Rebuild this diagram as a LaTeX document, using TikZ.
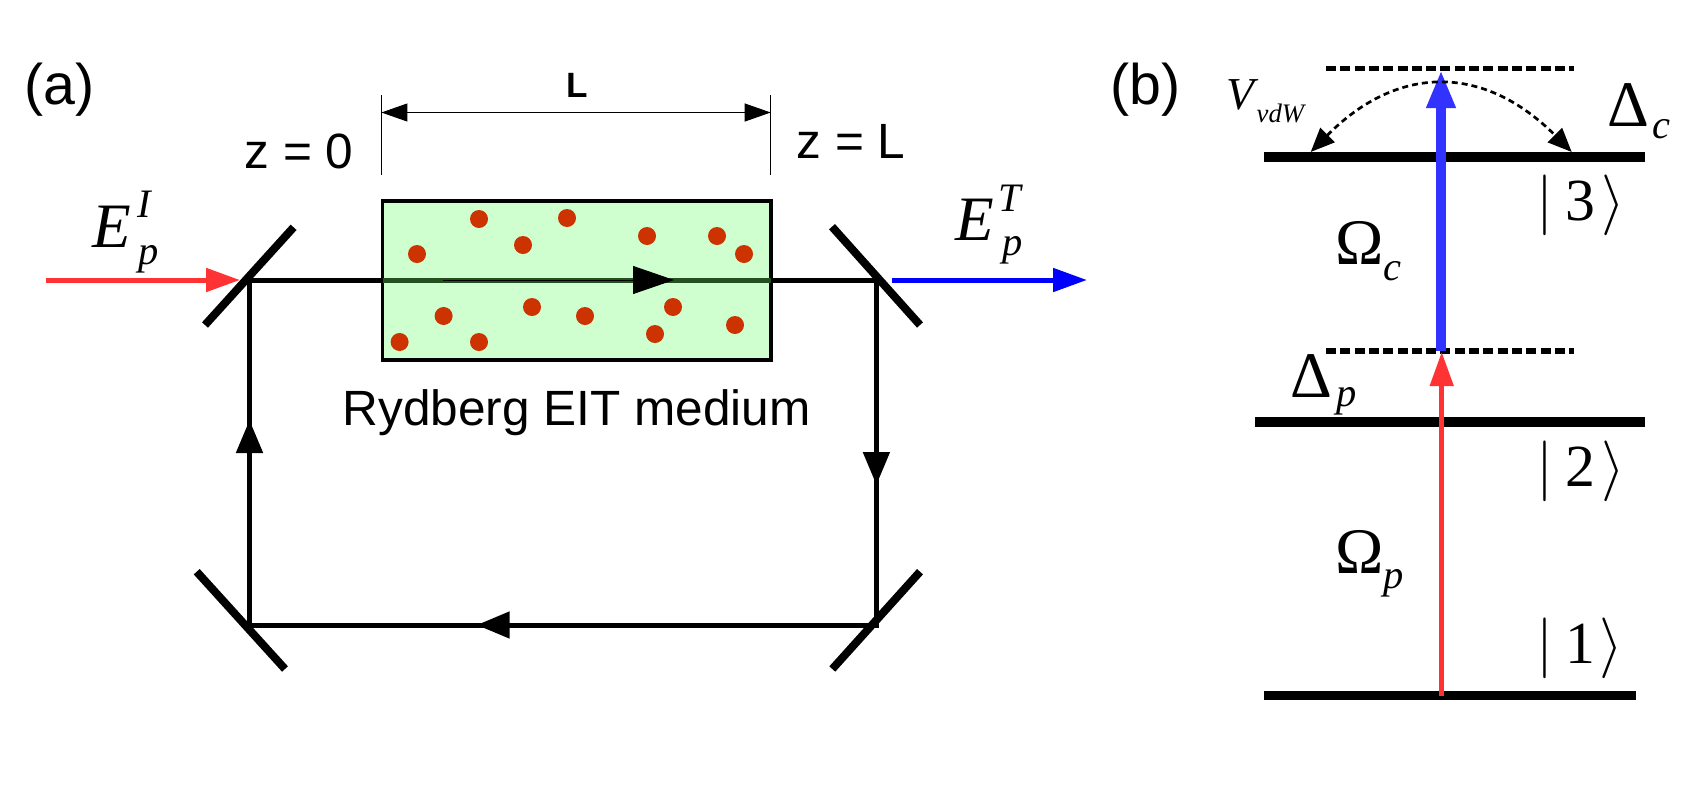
\documentclass[tikz,border=0pt]{standalone}
\usepackage{fontspec}
\setmainfont{Liberation Sans}
\newfontfamily\serifgreek{Liberation Serif}
\usetikzlibrary{arrows.meta}

\definecolor{ccmedium}{RGB}{207,255,207}
\definecolor{ccatom}{RGB}{204,51,0}
\definecolor{ccbeam}{RGB}{36,80,32}
\definecolor{ccprobe}{RGB}{255,51,51}
\definecolor{cccoupling}{RGB}{51,51,255}
\definecolor{ccoutput}{RGB}{0,0,255}

\tikzset{
  legend/.style={inner sep=0pt, anchor=base west, font=\fontsize{14.1}{14.1}\selectfont},
  panel/.style={inner sep=0pt, anchor=base west, font=\fontsize{16.3}{16.3}\selectfont},
  big/.style={inner sep=0pt, anchor=base west, font=\serifgreek\fontsize{18.5}{18.5}\selectfont},
  ket/.style={inner sep=0pt, anchor=base west, font=\serifgreek\fontsize{17}{17}\selectfont},
  bigit/.style={inner sep=0pt, anchor=base west, font=\serifgreek\itshape\fontsize{18}{18}\selectfont},
  small/.style={inner sep=0pt, anchor=base west, font=\serifgreek\itshape\fontsize{11.5}{11.5}\selectfont},
  beam/.style={line width=0.5mm},
  mirror/.style={line width=0.8mm},
  lvl/.style={line width=1mm},
  virtual/.style={line width=0.55mm, dash pattern=on 1mm off 0.43mm},
  atom/.style={fill=ccatom, draw=none},
  tipcavity/.style={-{Triangle[length=3.3mm, width=2.6mm]}, beam},
  tipprobe/.style={-{Triangle[length=3.4mm, width=2.3mm]}, line width=0.5mm},
}

\begin{document}
\begin{tikzpicture}[x=0.1mm, y=-0.1mm]

  \useasboundingbox (0,0) rectangle (1707,787);

  % Corners of the cavity
  \coordinate (m1) at (249.5,280);
  \coordinate (m2) at (876.4,280);
  \coordinate (m3) at (876.4,625);
  \coordinate (m4) at (249.5,625);
  \coordinate (boxl) at (382.5,280);
  \coordinate (boxr) at (770.7,280);

  % Medium
  \draw[fill=ccmedium, line width=0.38mm] (382.5,201) rectangle (770.7,360);
  \foreach \x/\y in {479/219, 417/254, 523/245, 567/218, 647/236, 717/236, 744/254,
                     443.6/316, 532/307, 585/316, 673/307, 655/334, 735/325, 399.6/342, 479/342}
    \fill[atom] (\x,\y) circle [radius=0.9mm];

  % Cavity
  \draw[beam] (m1) -- (boxl);
  \draw[beam] (boxr) -- (m2) -- (m3) -- (m4) -- (m1);
  \draw[beam, ccbeam] (boxl) -- (boxr);
  \draw[line width=0.1mm] (443,280) -- (640,280);

  % Cavity arrows
  \draw[-{Triangle[length=4.1mm, width=2.8mm]}, line width=0.1mm] (630,280) -- (674,280);
  \draw[tipcavity] (249.5,470) -- (249.5,420);
  \draw[tipcavity] (876.4,440) -- (876.4,485);
  \draw[tipcavity] (520,625) -- (476.7,625);

  % Mirrors
  \draw[mirror] (293.6,227.3) -- (205,325);
  \draw[mirror] (832,226.7) -- (920,325);
  \draw[mirror] (196.7,571.7) -- (285,669);
  \draw[mirror] (920,571.7) -- (832.3,669);

  % In and out
  \draw[tipprobe, ccprobe] (46,280) -- (240,280);
  \draw[tipprobe, ccoutput] (892,280) -- (1087,280);

  % Length
  \draw[line width=0.1mm] (381.4,95) -- (381.4,174.7);
  \draw[line width=0.1mm] (770.7,95) -- (770.7,174.7);
  \draw[{Triangle[length=2.6mm, width=1.8mm]}-{Triangle[length=2.6mm, width=1.8mm]}, line width=0.1mm] (381.4,112.5) -- (770.7,112.5);

  % Levels
  \draw[lvl] (1264,157) -- (1645,157);
  \draw[lvl] (1255,421.7) -- (1645,421.7);
  \draw[lvl, line width=0.9mm] (1264,695) -- (1636,695);
  \draw[virtual] (1326,68.7) -- (1574,68.7);
  \draw[virtual] (1326,351) -- (1574,351);

  % Transitions
  \draw[-{Triangle[length=3.8mm, width=2.7mm]}, line width=1mm, cccoupling] (1441,351) -- (1441,70);
  \draw[-{Triangle[length=3.4mm, width=2.3mm]}, line width=0.47mm, ccprobe] (1441.7,695.7) -- (1441.7,352);

  % vdW shift
  \draw[{Triangle[length=2.4mm, width=2mm]}-{Triangle[length=2.4mm, width=2mm]}, line width=0.27mm, dash pattern=on 0.6mm off 0.4mm]
    (1310.7,152) .. controls (1398,64) and (1484,64) .. (1571.7,152);

  % Legend
  \draw (24,104) node[panel] (a) {(a)};
  \draw (1110,104) node[panel] (b) {(b)};
  \draw (244,168) node[legend] (zstart) {z = 0};
  \draw (796,158) node[legend] (zend) {z = L};
  \draw (566,97) node[legend, font=\fontsize{10}{10}\selectfont\bfseries] (len) {L};
  \draw (342,425) node[legend] (medium) {Rydberg EIT medium};

  \draw (92,247) node[bigit] (ein) {E};
  \draw (137,217) node[small] (einsup) {I};
  \draw (138,264) node[small] (einsub) {p};
  \draw (955,240) node[bigit] (eout) {E};
  \draw (998,211) node[small] (eoutsup) {T};
  \draw (1002,255) node[small] (eoutsub) {p};

  \draw (1226,109) node[small, font=\serifgreek\itshape\fontsize{13}{13}\selectfont] (vdw) {V};
  \draw (1256,122) node[small, font=\serifgreek\itshape\fontsize{7.6}{7.6}\selectfont] (vdwsub) {vdW};

  \draw (1607,126) node[big] (dc) {Δ};
  \draw (1652,138) node[small] (dcsub) {c};
  \draw (1290,397) node[big] (dp) {Δ};
  \draw (1336,406) node[small] (dpsub) {p};
  \draw (1335,264) node[big] (oc) {Ω};
  \draw (1383,280) node[small] (ocsub) {c};
  \draw (1335,573) node[big] (op) {Ω};
  \draw (1383,588) node[small] (opsub) {p};

  \draw (1536,220) node[ket] (ket3) {$|$\hspace{3.5pt}3\hspace{1.7pt}$\rangle$};
  \draw (1536,486) node[ket] (ket2) {$|$\hspace{3.5pt}2\hspace{1.7pt}$\rangle$};
  \draw (1536,663) node[ket] (ket1) {$|$\hspace{3.5pt}1\hspace{1pt}$\rangle$};

\end{tikzpicture}
\end{document}
